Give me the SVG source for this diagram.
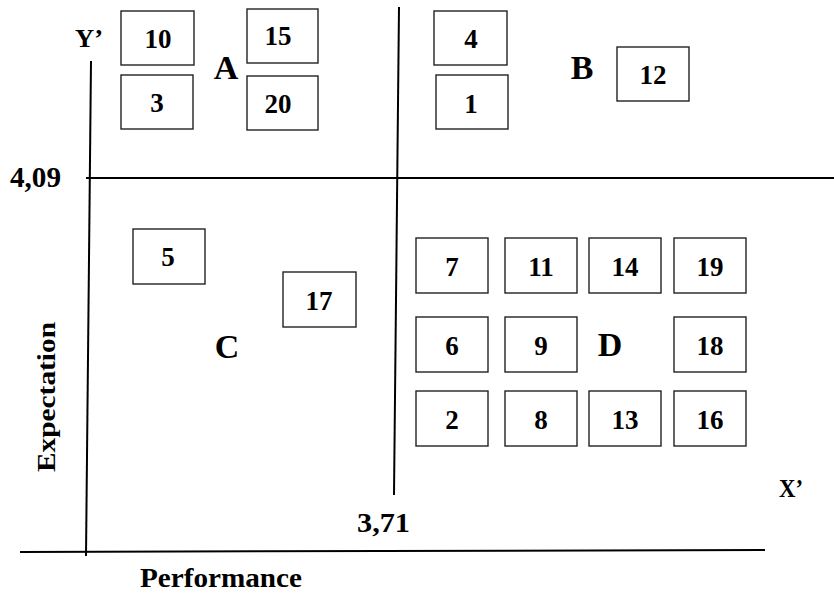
<svg xmlns="http://www.w3.org/2000/svg" width="834" height="593" viewBox="0 0 834 593">
<style>
text{font-family:"Liberation Serif","Times New Roman",serif;font-weight:bold;fill:#000}
.box rect{fill:#fff;stroke:#222;stroke-width:1.4}
.box text{font-size:27px;text-anchor:middle}
.q{font-size:34px;text-anchor:middle}
.ax{stroke:#000;stroke-width:2;fill:none}
.lbl{font-size:26px}
</style>
<rect width="834" height="593" fill="#fff"/>
<g id="axes">
<line class="ax" x1="91" y1="61" x2="86" y2="556"/>
<line class="ax" x1="86" y1="178" x2="834" y2="178"/>
<line class="ax" x1="399" y1="7" x2="394" y2="495"/>
<line class="ax" x1="20" y1="552" x2="765" y2="550"/>
</g>
<g id="labels">
<text class="lbl" x="75" y="47" textLength="28" lengthAdjust="spacingAndGlyphs">Y’</text>
<text class="lbl" x="779" y="497" textLength="24" lengthAdjust="spacingAndGlyphs">X’</text>
<text x="10" y="187" font-size="29" textLength="51" lengthAdjust="spacingAndGlyphs">4,09</text>
<text x="357" y="532" font-size="27" textLength="53" lengthAdjust="spacingAndGlyphs">3,71</text>
<text x="140" y="587" font-size="28" textLength="162" lengthAdjust="spacingAndGlyphs">Performance</text>
<text transform="translate(55,472) rotate(-90)" font-size="26" textLength="150" lengthAdjust="spacingAndGlyphs">Expectation</text>
<text class="q" x="226" y="79" font-size="31">A</text>
<text class="q" x="582" y="79">B</text>
<text class="q" x="227" y="358">C</text>
<text class="q" x="610" y="356">D</text>
</g>
<g id="n10" class="box"><rect x="121" y="11" width="73" height="54"/><text x="158" y="48">10</text></g>
<g id="n3" class="box"><rect x="121" y="75" width="72" height="54"/><text x="157" y="112">3</text></g>
<g id="n15" class="box"><rect x="247" y="9" width="71" height="54"/><text x="278" y="45">15</text></g>
<g id="n20" class="box"><rect x="247" y="76" width="71" height="54"/><text x="278" y="113">20</text></g>
<g id="n4" class="box"><rect x="434" y="11" width="73" height="54"/><text x="471" y="48">4</text></g>
<g id="n1" class="box"><rect x="436" y="75" width="72" height="54"/><text x="471" y="113">1</text></g>
<g id="n12" class="box"><rect x="617" y="47" width="72" height="54"/><text x="653" y="84">12</text></g>
<g id="n5" class="box"><rect x="133" y="229" width="72" height="55"/><text x="168" y="266">5</text></g>
<g id="n17" class="box"><rect x="283" y="272" width="73" height="55"/><text x="319" y="310">17</text></g>
<g id="n7" class="box"><rect x="416" y="238" width="72" height="55"/><text x="452" y="276">7</text></g>
<g id="n11" class="box"><rect x="505" y="238" width="72" height="55"/><text x="541" y="276">11</text></g>
<g id="n14" class="box"><rect x="589" y="238" width="72" height="55"/><text x="625" y="276">14</text></g>
<g id="n19" class="box"><rect x="674" y="238" width="72" height="55"/><text x="710" y="276">19</text></g>
<g id="n6" class="box"><rect x="416" y="317" width="72" height="55"/><text x="452" y="355">6</text></g>
<g id="n9" class="box"><rect x="505" y="317" width="72" height="55"/><text x="541" y="355">9</text></g>
<g id="n18" class="box"><rect x="674" y="317" width="72" height="55"/><text x="710" y="355">18</text></g>
<g id="n2" class="box"><rect x="416" y="391" width="72" height="55"/><text x="452" y="429">2</text></g>
<g id="n8" class="box"><rect x="505" y="391" width="72" height="55"/><text x="541" y="429">8</text></g>
<g id="n13" class="box"><rect x="589" y="391" width="72" height="55"/><text x="625" y="429">13</text></g>
<g id="n16" class="box"><rect x="674" y="391" width="72" height="55"/><text x="710" y="429">16</text></g>
</svg>
